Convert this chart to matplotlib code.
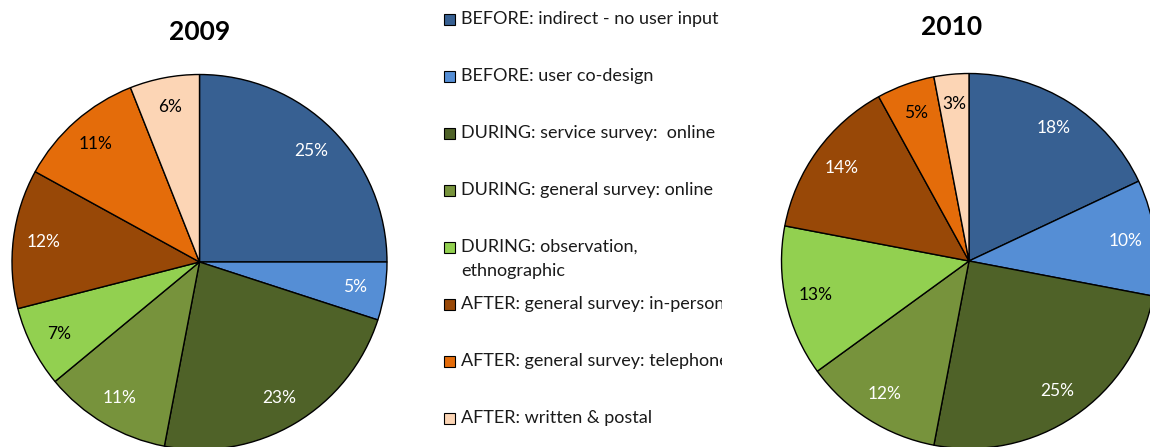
import matplotlib
matplotlib.use("Agg")
import matplotlib.pyplot as plt
from matplotlib.patches import Rectangle

plt.rcParams['font.family'] = ['Lato', 'DejaVu Sans']

# data
labels = ["BEFORE: indirect - no user input",
          "BEFORE: user co-design",
          "DURING: service survey:  online",
          "DURING: general survey: online",
          "DURING: observation,\nethnographic",
          "AFTER: general survey: in-person",
          "AFTER: general survey: telephone",
          "AFTER: written & postal"]
vals_2009 = [25, 5, 23, 11, 7, 12, 11, 6]
vals_2010 = [18, 10, 25, 12, 13, 14, 5, 3]
colors = ["#376092", "#558ED5", "#4F6228", "#77933C",
          "#92D050", "#984807", "#E46C0A", "#FCD5B5"]
txt_colors = ["white", "white", "white", "white",
              "black", "white", "black", "black"]

W, H = 1150, 447
fig = plt.figure(figsize=(W/100, H/100), dpi=100)


def pie_axes(cx, cy, r):
	# cx, cy in pixels from top-left
	return fig.add_axes([(cx - r)/W, (H - cy - r)/H, 2*r/W, 2*r/H])


def draw_pie(ax, vals, title, tx, ty):
	wedges, texts, autotexts = ax.pie(vals, colors=colors, startangle=90, counterclock=False,
	                                  autopct='%d%%', pctdistance=0.84,
	                                  wedgeprops=dict(edgecolor='black', linewidth=1.0),
	                                  textprops=dict(fontsize=12.5))
	for w in wedges:
		w.set_clip_on(False)
	for t, c in zip(autotexts, txt_colors):
		t.set_color(c)
	ax.set_xlim(-1, 1)
	ax.set_ylim(-1, 1)
	ax.set_aspect('auto')
	ax.axis('off')
	fig.text(tx/W, 1 - ty/H, title, fontsize=19, fontweight='bold', ha='center', va='center')


ax1 = pie_axes(199.5, 262, 187.5)
draw_pie(ax1, vals_2009, "2009", 200, 31.5)
ax2 = pie_axes(969, 261, 187.5)
draw_pie(ax2, vals_2010, "2010", 952, 27)

# legend, clipped on the right like the original
lax = fig.add_axes([440/W, 0, (722 - 440)/W, 1])
lax.set_xlim(440, 722)
lax.set_ylim(H, 0)
lax.axis('off')
for i, (lab, col) in enumerate(zip(labels, colors)):
	y = 19 + 57*i
	lax.add_patch(Rectangle((443.5, y - 5.5), 11, 11, facecolor=col, edgecolor='black', lw=0.8))
	for k, line in enumerate(lab.split('\n')):
		t = lax.text(461, y + 5 + 24*k, line, fontsize=13, color='#1a1a1a', ha='left', va='baseline')
		t.set_clip_on(True)

fig.savefig("out.png", dpi=100)
